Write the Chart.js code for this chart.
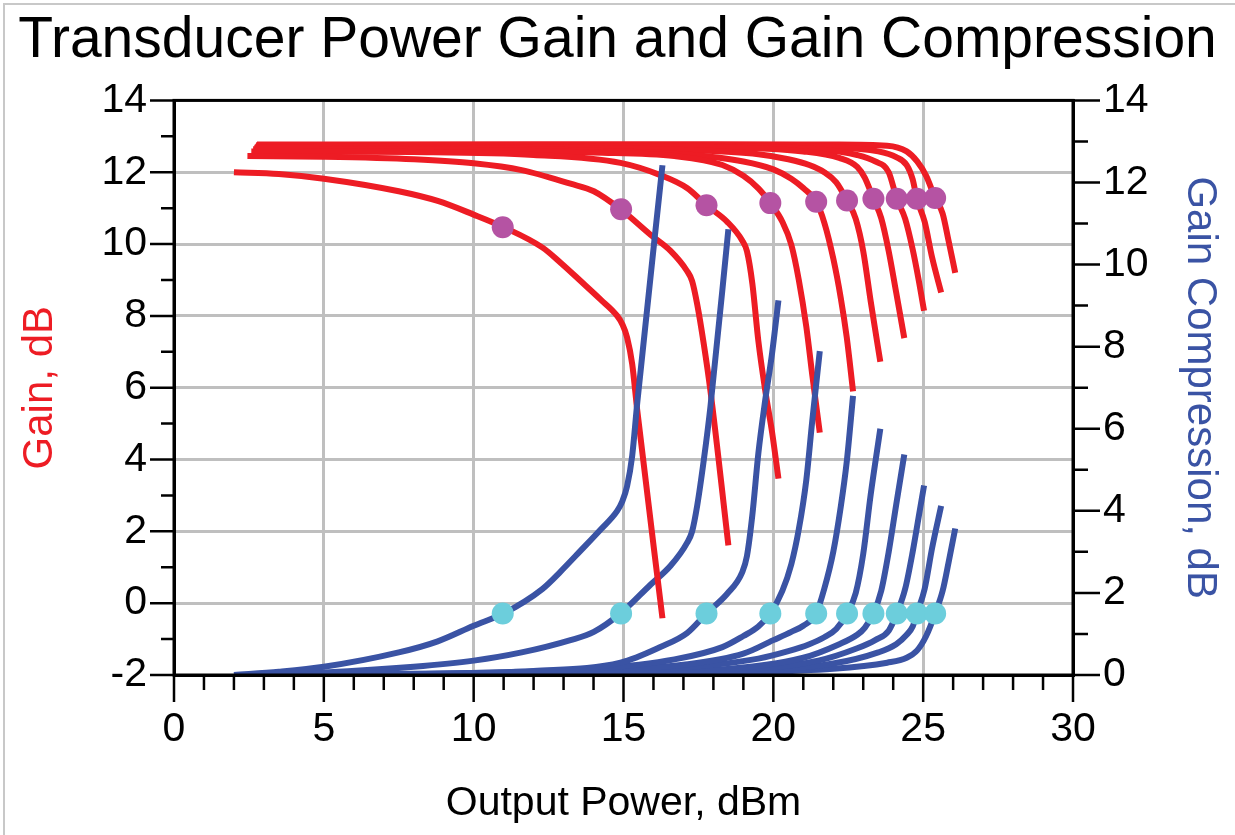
<!DOCTYPE html>
<html>
<head>
<meta charset="utf-8">
<title>Transducer Power Gain and Gain Compression</title>
<script src="https://cdn.jsdelivr.net/npm/chart.js@4.4.1/dist/chart.umd.min.js"></script>
<style>
  html, body { margin: 0; padding: 0; background: #fff; }
  #wrap { position: relative; width: 1235px; height: 835px; }
  #frame { position: absolute; left: 3px; top: 3px; right: 0; bottom: 0;
           border-left: 2px solid #c8c8c8; border-top: 2px solid #c8c8c8; pointer-events: none; }
</style>
</head>
<body>
<div id="wrap">
  <canvas id="gainChart"></canvas>
  <div id="frame"></div>
</div>
<script>
// output power (dBm) sampled along each of the 10 swept curves
const outputPower = [
  [2.0, 3.5, 5.0, 7.5, 8.8, 10.0, 11.0, 12.3, 12.9, 13.57, 14.23, 14.79, 14.96, 15.12, 15.29, 15.46, 16.3],
  [2.45, 5, 8, 10, 11.6, 13.23, 14.01, 14.9, 15.9, 16.57, 17.12, 17.29, 17.46, 17.68, 17.9, 18.5],
  [2.58, 8, 12, 14.9, 16.23, 17.12, 17.77, 18.46, 18.96, 19.12, 19.3, 19.5, 19.73, 19.96, 20.17],
  [2.64, 10, 14, 16.7, 18.3, 19.0, 19.5, 19.9, 20.3, 20.6, 20.85, 21.1, 21.3, 21.55],
  [2.68, 10, 14, 17, 19, 20, 20.6, 21, 21.43, 21.7, 22.0, 22.25, 22.45, 22.66],
  [2.71, 12, 17, 19.5, 20.5, 21.2, 21.7, 22.1, 22.46, 22.75, 23.0, 23.25, 23.57],
  [2.74, 12, 18, 21, 22.2, 22.8, 23.05, 23.34, 23.6, 23.85, 24.1, 24.37],
  [2.75, 12, 18, 21.5, 22.8, 23.4, 23.85, 24.12, 24.4, 24.65, 24.85, 25.03],
  [2.76, 12, 18, 22, 23.5, 24.1, 24.45, 24.65, 24.79, 25.05, 25.3, 25.6],
  [2.77, 12, 18, 22, 23.8, 24.45, 24.8, 25.1, 25.4, 25.65, 25.85, 26.07]
];

// transducer gain, dB (left axis)
const gain = [
  [12.0, 11.95, 11.82, 11.47, 11.2, 10.82, 10.47, 9.9, 9.48, 8.97, 8.46, 8.0, 7.77, 7.4, 6.66, 5.36, -0.42],
  [12.45, 12.43, 12.36, 12.25, 12.06, 11.68, 11.47, 10.97, 10.26, 9.81, 9.25, 8.97, 8.32, 7.21, 5.92, 1.61],
  [12.58, 12.56, 12.48, 12.26, 11.92, 11.56, 11.08, 10.62, 10.1, 9.8, 8.9, 7.3, 5.92, 4.75, 3.47],
  [12.64, 12.62, 12.55, 12.45, 12.2, 11.9, 11.55, 11.14, 10.62, 9.98, 9.0, 7.7, 6.35, 4.75],
  [12.68, 12.66, 12.6, 12.5, 12.3, 12.08, 11.82, 11.56, 11.18, 10.6, 9.6, 8.5, 7.4, 5.9],
  [12.71, 12.69, 12.62, 12.5, 12.36, 12.2, 12.0, 11.72, 11.21, 10.7, 9.8, 8.4, 6.72],
  [12.74, 12.73, 12.7, 12.58, 12.4, 12.15, 11.85, 11.26, 10.72, 9.8, 8.65, 7.38],
  [12.75, 12.75, 12.73, 12.64, 12.48, 12.3, 12.0, 11.26, 10.7, 9.85, 9.0, 8.14],
  [12.76, 12.76, 12.75, 12.7, 12.58, 12.42, 12.2, 11.8, 11.26, 10.62, 9.62, 8.65],
  [12.77, 12.78, 12.78, 12.77, 12.74, 12.58, 12.3, 11.9, 11.28, 10.85, 10.08, 9.2]
];

// gain compression, dB (right axis)
const compression = [
  [0, 0.08, 0.2, 0.55, 0.82, 1.2, 1.5, 2.1, 2.52, 3.03, 3.54, 4.0, 4.23, 4.6, 5.34, 6.64, 12.42],
  [0, 0.06, 0.2, 0.35, 0.55, 0.85, 1.05, 1.5, 2.2, 2.66, 3.22, 3.5, 4.13, 5.24, 6.53, 10.86],
  [0, 0.03, 0.1, 0.3, 0.68, 1.02, 1.5, 1.98, 2.5, 2.9, 3.9, 5.4, 6.7, 7.85, 9.13],
  [0, 0.05, 0.15, 0.38, 0.68, 0.95, 1.18, 1.5, 2.05, 2.7, 3.55, 4.75, 6.2, 7.89],
  [0, 0.03, 0.1, 0.25, 0.52, 0.85, 1.05, 1.2, 1.5, 2.1, 3.0, 4.1, 5.2, 6.8],
  [0, 0.03, 0.18, 0.4, 0.58, 0.75, 0.92, 1.12, 1.5, 2.0, 2.95, 4.4, 6.0],
  [0, 0.02, 0.12, 0.42, 0.75, 0.98, 1.15, 1.5, 2.05, 3.0, 4.15, 5.37],
  [0, 0.02, 0.08, 0.35, 0.65, 0.85, 1.08, 1.5, 2.1, 3.0, 3.85, 4.62],
  [0, 0.02, 0.06, 0.28, 0.55, 0.75, 0.98, 1.18, 1.5, 2.1, 3.1, 4.12],
  [0, 0.02, 0.05, 0.15, 0.3, 0.42, 0.6, 0.95, 1.5, 2.05, 2.75, 3.57]
];

// 1.5 dB compression markers
const markerPower = [10.97, 14.92, 17.77, 19.9, 21.43, 22.46, 23.34, 24.12, 24.79, 25.4];
const markerGain = [10.47, 10.97, 11.08, 11.14, 11.18, 11.21, 11.26, 11.26, 11.26, 11.28];
const markerComp = [1.5, 1.5, 1.5, 1.5, 1.5, 1.5, 1.5, 1.5, 1.5, 1.5];

const RED = "#ED1C24";
const BLUE = "#3A53A4";
const PURPLE = "#B553A3";
const CYAN = "#6CCEDC";
const GRID = "#bfbfbf";

Chart.defaults.font.family = "'Liberation Sans', Arial, sans-serif";

const toPoints = (xs, ys) => xs.map((x, i) => ({ x: x, y: ys[i] }));

// curve 1 ends up on top, then 2, ...; blue over red inside a pair
const datasets = [];
outputPower.forEach((xs, i) => {
    datasets.push({
        label: "Gain " + (i + 1),
        data: toPoints(xs, gain[i]),
        yAxisID: "y",
        borderColor: RED,
        borderWidth: 6,
        pointRadius: 0,
        showLine: true,
        cubicInterpolationMode: "monotone",
        order: 11 + 2 * i
    });
    datasets.push({
        label: "Compression " + (i + 1),
        data: toPoints(xs, compression[i]),
        yAxisID: "y1",
        borderColor: BLUE,
        borderWidth: 6,
        pointRadius: 0,
        showLine: true,
        cubicInterpolationMode: "monotone",
        order: 10 + 2 * i
    });
});
datasets.push({
    label: "Gain markers",
    data: toPoints(markerPower, markerGain),
    yAxisID: "y",
    showLine: false,
    pointRadius: 11,
    pointBorderWidth: 0,
    pointBackgroundColor: PURPLE,
    order: 0
});
datasets.push({
    label: "Compression markers",
    data: toPoints(markerPower, markerComp),
    yAxisID: "y1",
    showLine: false,
    pointRadius: 11,
    pointBorderWidth: 0,
    pointBackgroundColor: CYAN,
    order: 0
});

// box round the plot plus major/minor tick marks
const axisTicks = {
    id: "axisTicks",
    afterDraw(chart) {
        const { ctx, chartArea: a, scales } = chart;
        ctx.save();
        ctx.strokeStyle = "#000";
        ctx.lineWidth = 3;
        ctx.strokeRect(a.left, a.top, a.right - a.left, a.bottom - a.top);
        ctx.lineWidth = 2.5;
        ctx.beginPath();
        for (let v = 0; v <= 30; v++) {
            const px = scales.x.getPixelForValue(v);
            ctx.moveTo(px, a.bottom);
            ctx.lineTo(px, a.bottom + (v % 5 === 0 ? 27 : 15));
        }
        for (let v = -2; v <= 14; v++) {
            const py = scales.y.getPixelForValue(v);
            ctx.moveTo(a.left, py);
            ctx.lineTo(a.left - (v % 2 === 0 ? 24 : 13), py);
        }
        for (let v = 0; v <= 14; v++) {
            const py = scales.y1.getPixelForValue(v);
            ctx.moveTo(a.right, py);
            ctx.lineTo(a.right + (v % 2 === 0 ? 27 : 15), py);
        }
        ctx.stroke();
        ctx.restore();
    }
};

const ctx = document.getElementById("gainChart");

new Chart(ctx, {
    type: "scatter",
    data: { datasets: datasets },
    plugins: [axisTicks],
    options: {
        responsive: true,
        maintainAspectRatio: false,
        animation: false,
        layout: { padding: 0 },
        plugins: {
            legend: { display: false },
            tooltip: { enabled: false },
            title: {
                display: true,
                text: "Transducer Power Gain and Gain Compression",
                color: "#000",
                font: { size: 57, weight: "normal" },
                padding: { top: 7, bottom: 25 }
            }
        },
        scales: {
            x: {
                type: "linear",
                min: 0,
                max: 30,
                ticks: { stepSize: 5, color: "#000", font: { size: 41 }, padding: 30 },
                grid: { color: GRID, lineWidth: 3, drawTicks: false },
                border: { color: "#000", width: 3 },
                title: { display: true, text: "Output Power, dBm", color: "#000", font: { size: 41 }, padding: { bottom: 7 } },
                afterFit: s => { s.height = 160; }
            },
            y: {
                position: "left",
                min: -2,
                max: 14,
                ticks: { stepSize: 2, color: "#000", font: { size: 41 }, padding: 27 },
                grid: { color: GRID, lineWidth: 3, drawTicks: false },
                border: { color: "#000", width: 3 },
                title: { display: true, text: "Gain, dB", color: RED, font: { size: 42 }, padding: { top: 15 } },
                afterFit: s => { s.width = 174; }
            },
            y1: {
                position: "right",
                min: 0,
                max: 14,
                ticks: { stepSize: 2, color: "#000", font: { size: 41 }, padding: 30 },
                grid: { display: false, drawTicks: false },
                border: { color: "#000", width: 3 },
                title: { display: true, text: "Gain Compression, dB", color: BLUE, font: { size: 42 }, padding: { top: 10 } },
                afterFit: s => { s.width = 162; }
            }
        }
    }
});
</script>
</body>
</html>
